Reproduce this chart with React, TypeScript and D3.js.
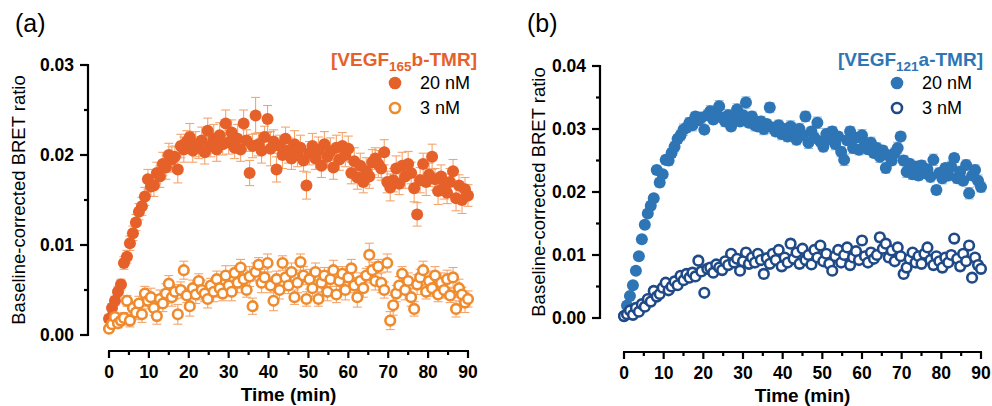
import React from 'react';
import * as d3 from 'd3';

// sampling grid (min)
const times = [
  0, 0.75, 1.5, 2.25, 3, 3.75, 4.5, 5.25, 6, 6.75,
  7.5, 8.25, 9, 9.75, 10.5, 11.25, 12, 12.75, 13.5, 14.25,
  15, 15.75, 16.5, 17.25, 18, 18.75, 19.5, 20.25, 21, 21.75,
  22.5, 23.25, 24, 24.75, 25.5, 26.25, 27, 27.75, 28.5, 29.25,
  30, 30.75, 31.5, 32.25, 33, 33.75, 34.5, 35.25, 36, 36.75,
  37.5, 38.25, 39, 39.75, 40.5, 41.25, 42, 42.75, 43.5, 44.25,
  45, 45.75, 46.5, 47.25, 48, 48.75, 49.5, 50.25, 51, 51.75,
  52.5, 53.25, 54, 54.75, 55.5, 56.25, 57, 57.75, 58.5, 59.25,
  60, 60.75, 61.5, 62.25, 63, 63.75, 64.5, 65.25, 66, 66.75,
  67.5, 68.25, 69, 69.75, 70.5, 71.25, 72, 72.75, 73.5, 74.25,
  75, 75.75, 76.5, 77.25, 78, 78.75, 79.5, 80.25, 81, 81.75,
  82.5, 83.25, 84, 84.75, 85.5, 86.25, 87, 87.75, 88.5, 89.25,
  90,
];

// (a) VEGF165b-TMR, 20 nM
const a20 = [
  0.0018, 0.0030, 0.0038, 0.0048, 0.0056, 0.0080, 0.0087, 0.0102, 0.0113, 0.0125,
  0.0137, 0.0143, 0.0154, 0.0173, 0.0165, 0.0166, 0.0180, 0.0176, 0.0190, 0.0186,
  0.0200, 0.0195, 0.0198, 0.0184, 0.0210, 0.0206, 0.0215, 0.0220, 0.0205, 0.0212,
  0.0208, 0.0216, 0.0203, 0.0227, 0.0210, 0.0218, 0.0206, 0.0222, 0.0212, 0.0235,
  0.0214, 0.0225, 0.0208, 0.0218, 0.0206, 0.0235, 0.0216, 0.0180, 0.0210, 0.0244,
  0.0212, 0.0205, 0.0220, 0.0240, 0.0207, 0.0215, 0.0184, 0.0210, 0.0200, 0.0218,
  0.0205, 0.0196, 0.0212, 0.0200, 0.0208, 0.0194, 0.0166, 0.0202, 0.0210, 0.0196,
  0.0205, 0.0188, 0.0212, 0.0198, 0.0204, 0.0186, 0.0208, 0.0195, 0.0210, 0.0200,
  0.0207, 0.0180, 0.0193, 0.0175, 0.0188, 0.0170, 0.0182, 0.0176, 0.0192, 0.0196,
  0.0190, 0.0185, 0.0203, 0.0170, 0.0164, 0.0172, 0.0185, 0.0168, 0.0188, 0.0176,
  0.0190, 0.0180, 0.0163, 0.0134, 0.0172, 0.0190, 0.0170, 0.0178, 0.0198, 0.0173,
  0.0160, 0.0176, 0.0165, 0.0158, 0.0170, 0.0182, 0.0152, 0.0166, 0.0150, 0.0162,
  0.0155,
];
const a20err = [
  0.0004, 0.0005, 0.0005, 0.0006, 0.0006, 0.0007, 0.0007, 0.0008, 0.0008, 0.0009,
  0.0009, 0.0010, 0.0010, 0.0011, 0.0011, 0.0012, 0.0012, 0.0012, 0.0013, 0.0013,
  0.0013, 0.0014, 0.0012, 0.0015, 0.0013, 0.0014, 0.0012, 0.0015, 0.0013, 0.0014,
  0.0012, 0.0015, 0.0013, 0.0014, 0.0012, 0.0016, 0.0013, 0.0014, 0.0012, 0.0015,
  0.0013, 0.0014, 0.0012, 0.0016, 0.0013, 0.0015, 0.0012, 0.0014, 0.0013, 0.0020,
  0.0013, 0.0014, 0.0012, 0.0015, 0.0019, 0.0013, 0.0014, 0.0012, 0.0015, 0.0013,
  0.0014, 0.0012, 0.0015, 0.0013, 0.0014, 0.0012, 0.0015, 0.0013, 0.0014, 0.0012,
  0.0015, 0.0013, 0.0014, 0.0012, 0.0015, 0.0013, 0.0014, 0.0012, 0.0015, 0.0013,
  0.0014, 0.0012, 0.0015, 0.0013, 0.0014, 0.0012, 0.0015, 0.0013, 0.0014, 0.0012,
  0.0015, 0.0013, 0.0014, 0.0012, 0.0015, 0.0013, 0.0014, 0.0012, 0.0015, 0.0013,
  0.0014, 0.0012, 0.0015, 0.0013, 0.0014, 0.0012, 0.0015, 0.0013, 0.0014, 0.0012,
  0.0015, 0.0013, 0.0014, 0.0012, 0.0015, 0.0013, 0.0014, 0.0012, 0.0015, 0.0013,
  0.0012,
];

// (a) VEGF165b-TMR, 3 nM
const a3 = [
  0.0007, 0.0012, 0.0020, 0.0013, 0.0016, 0.0019, 0.0038, 0.0016, 0.0030, 0.0025,
  0.0035, 0.0023, 0.0046, 0.0038, 0.0042, 0.0030, 0.0021, 0.0040, 0.0035, 0.0046,
  0.0057, 0.0042, 0.0048, 0.0023, 0.0050, 0.0072, 0.0044, 0.0032, 0.0052, 0.0045,
  0.0060, 0.0050, 0.0046, 0.0040, 0.0055, 0.0048, 0.0062, 0.0052, 0.0046, 0.0066,
  0.0055, 0.0048, 0.0069, 0.0058, 0.0075, 0.0062, 0.0050, 0.0065, 0.0032, 0.0070,
  0.0078, 0.0058, 0.0064, 0.0080, 0.0055, 0.0038, 0.0062, 0.0050, 0.0080, 0.0064,
  0.0055, 0.0070, 0.0042, 0.0058, 0.0081, 0.0066, 0.0040, 0.0062, 0.0052, 0.0070,
  0.0040, 0.0058, 0.0066, 0.0048, 0.0062, 0.0072, 0.0045, 0.0060, 0.0068, 0.0050,
  0.0064, 0.0074, 0.0055, 0.0042, 0.0060, 0.0052, 0.0066, 0.0089, 0.0072, 0.0060,
  0.0076, 0.0058, 0.0050, 0.0080, 0.0016, 0.0033, 0.0046, 0.0055, 0.0068, 0.0050,
  0.0060, 0.0042, 0.0029, 0.0056, 0.0064, 0.0072, 0.0048, 0.0060, 0.0052, 0.0066,
  0.0045, 0.0058, 0.0050, 0.0062, 0.0044, 0.0064, 0.0029, 0.0052, 0.0045, 0.0036,
  0.0040,
];
const a3err = [
  0.0003, 0.0004, 0.0004, 0.0005, 0.0005, 0.0006, 0.0006, 0.0007, 0.0007, 0.0008,
  0.0008, 0.0009, 0.0008, 0.0009, 0.0010, 0.0008, 0.0009, 0.0010, 0.0009, 0.0011,
  0.0009, 0.0010, 0.0008, 0.0011, 0.0009, 0.0010, 0.0008, 0.0011, 0.0009, 0.0010,
  0.0008, 0.0011, 0.0009, 0.0010, 0.0008, 0.0011, 0.0009, 0.0010, 0.0008, 0.0011,
  0.0009, 0.0010, 0.0008, 0.0011, 0.0009, 0.0010, 0.0008, 0.0011, 0.0009, 0.0010,
  0.0008, 0.0011, 0.0009, 0.0010, 0.0008, 0.0011, 0.0009, 0.0010, 0.0008, 0.0011,
  0.0009, 0.0010, 0.0008, 0.0011, 0.0009, 0.0010, 0.0008, 0.0011, 0.0009, 0.0010,
  0.0008, 0.0011, 0.0009, 0.0010, 0.0008, 0.0011, 0.0009, 0.0010, 0.0008, 0.0011,
  0.0009, 0.0010, 0.0008, 0.0011, 0.0009, 0.0010, 0.0008, 0.0013, 0.0009, 0.0010,
  0.0008, 0.0011, 0.0009, 0.0010, 0.0010, 0.0011, 0.0009, 0.0010, 0.0008, 0.0011,
  0.0009, 0.0010, 0.0008, 0.0011, 0.0009, 0.0010, 0.0008, 0.0011, 0.0009, 0.0010,
  0.0008, 0.0011, 0.0009, 0.0010, 0.0008, 0.0011, 0.0009, 0.0010, 0.0008, 0.0011,
  0.0009,
];

// (b) VEGF121a-TMR, 20 nM
const b20 = [
  0.0003, 0.0020, 0.0035, 0.0052, 0.0075, 0.0098, 0.0125, 0.0148, 0.0166, 0.0178,
  0.0190, 0.0235, 0.0215, 0.0228, 0.0251, 0.0250, 0.0262, 0.0272, 0.0284, 0.0290,
  0.0299, 0.0302, 0.0310, 0.0306, 0.0320, 0.0314, 0.0318, 0.0299, 0.0322, 0.0328,
  0.0315, 0.0325, 0.0336, 0.0318, 0.0312, 0.0322, 0.0304, 0.0318, 0.0331, 0.0312,
  0.0322, 0.0342, 0.0310, 0.0320, 0.0306, 0.0304, 0.0312, 0.0300, 0.0308, 0.0334,
  0.0302, 0.0296, 0.0306, 0.0292, 0.0300, 0.0288, 0.0304, 0.0294, 0.0283, 0.0300,
  0.0290, 0.0320, 0.0278, 0.0296, 0.0286, 0.0310, 0.0280, 0.0272, 0.0292, 0.0284,
  0.0296, 0.0276, 0.0288, 0.0264, 0.0251, 0.0282, 0.0296, 0.0270, 0.0286, 0.0267,
  0.0290, 0.0278, 0.0268, 0.0278, 0.0262, 0.0270, 0.0256, 0.0266, 0.0238, 0.0258,
  0.0250, 0.0262, 0.0270, 0.0288, 0.0250, 0.0232, 0.0245, 0.0228, 0.0240, 0.0226,
  0.0242, 0.0230, 0.0236, 0.0224, 0.0251, 0.0203, 0.0230, 0.0222, 0.0238, 0.0226,
  0.0240, 0.0254, 0.0222, 0.0232, 0.0218, 0.0243, 0.0198, 0.0226, 0.0235, 0.0218,
  0.0208,
];
const b20err = [
  0.0002, 0.0003, 0.0003, 0.0004, 0.0004, 0.0004, 0.0005, 0.0005, 0.0005, 0.0006,
  0.0006, 0.0006, 0.0007, 0.0006, 0.0007, 0.0008, 0.0007, 0.0008, 0.0007, 0.0008,
  0.0009, 0.0007, 0.0008, 0.0009, 0.0007, 0.0008, 0.0009, 0.0007, 0.0008, 0.0009,
  0.0007, 0.0008, 0.0009, 0.0007, 0.0008, 0.0009, 0.0007, 0.0008, 0.0009, 0.0007,
  0.0008, 0.0009, 0.0007, 0.0008, 0.0009, 0.0007, 0.0008, 0.0009, 0.0007, 0.0008,
  0.0009, 0.0007, 0.0008, 0.0009, 0.0007, 0.0008, 0.0009, 0.0007, 0.0008, 0.0009,
  0.0007, 0.0008, 0.0009, 0.0007, 0.0008, 0.0009, 0.0007, 0.0008, 0.0009, 0.0007,
  0.0008, 0.0009, 0.0007, 0.0008, 0.0009, 0.0007, 0.0008, 0.0009, 0.0007, 0.0008,
  0.0009, 0.0007, 0.0008, 0.0009, 0.0007, 0.0008, 0.0009, 0.0007, 0.0008, 0.0009,
  0.0007, 0.0008, 0.0009, 0.0007, 0.0008, 0.0009, 0.0007, 0.0008, 0.0009, 0.0007,
  0.0008, 0.0009, 0.0007, 0.0008, 0.0009, 0.0007, 0.0008, 0.0009, 0.0007, 0.0008,
  0.0009, 0.0007, 0.0008, 0.0009, 0.0007, 0.0008, 0.0009, 0.0007, 0.0008, 0.0009,
  0.0008,
];

// (b) VEGF121a-TMR, 3 nM
const b3 = [
  0.0003, 0.0006, 0.0012, 0.0005, 0.0016, 0.0010, 0.0022, 0.0018, 0.0030, 0.0026,
  0.0043, 0.0034, 0.0038, 0.0048, 0.0056, 0.0044, 0.0050, 0.0058, 0.0052, 0.0067,
  0.0060, 0.0070, 0.0064, 0.0072, 0.0066, 0.0091, 0.0074, 0.0040, 0.0078, 0.0080,
  0.0072, 0.0085, 0.0080, 0.0076, 0.0090, 0.0084, 0.0102, 0.0088, 0.0094, 0.0075,
  0.0090, 0.0104, 0.0086, 0.0096, 0.0088, 0.0102, 0.0092, 0.0070, 0.0095, 0.0086,
  0.0102, 0.0092, 0.0108, 0.0082, 0.0096, 0.0088, 0.0118, 0.0094, 0.0104, 0.0086,
  0.0110, 0.0092, 0.0100, 0.0085, 0.0108, 0.0096, 0.0115, 0.0090, 0.0102, 0.0086,
  0.0075, 0.0098, 0.0108, 0.0088, 0.0100, 0.0112, 0.0084, 0.0096, 0.0106, 0.0092,
  0.0123, 0.0098, 0.0088, 0.0104, 0.0094, 0.0100, 0.0128, 0.0110, 0.0118, 0.0096,
  0.0107, 0.0090, 0.0112, 0.0098, 0.0070, 0.0080, 0.0094, 0.0104, 0.0088, 0.0098,
  0.0086, 0.0102, 0.0112, 0.0092, 0.0084, 0.0098, 0.0090, 0.0080, 0.0096, 0.0088,
  0.0100, 0.0126, 0.0094, 0.0082, 0.0102, 0.0090, 0.0115, 0.0064, 0.0096, 0.0084,
  0.0078,
];
const b3err = [
  0.0002, 0.0002, 0.0003, 0.0003, 0.0003, 0.0004, 0.0004, 0.0004, 0.0005, 0.0004,
  0.0005, 0.0005, 0.0006, 0.0005, 0.0006, 0.0005, 0.0006, 0.0007, 0.0005, 0.0006,
  0.0007, 0.0005, 0.0006, 0.0007, 0.0005, 0.0006, 0.0007, 0.0005, 0.0006, 0.0007,
  0.0005, 0.0006, 0.0007, 0.0005, 0.0006, 0.0007, 0.0005, 0.0006, 0.0007, 0.0005,
  0.0006, 0.0007, 0.0005, 0.0006, 0.0007, 0.0005, 0.0006, 0.0007, 0.0005, 0.0006,
  0.0007, 0.0005, 0.0006, 0.0007, 0.0005, 0.0006, 0.0007, 0.0005, 0.0006, 0.0007,
  0.0005, 0.0006, 0.0007, 0.0005, 0.0006, 0.0007, 0.0005, 0.0006, 0.0007, 0.0005,
  0.0006, 0.0007, 0.0005, 0.0006, 0.0007, 0.0005, 0.0006, 0.0007, 0.0005, 0.0006,
  0.0007, 0.0005, 0.0006, 0.0007, 0.0005, 0.0006, 0.0007, 0.0005, 0.0006, 0.0007,
  0.0005, 0.0006, 0.0007, 0.0005, 0.0006, 0.0007, 0.0005, 0.0006, 0.0007, 0.0005,
  0.0006, 0.0007, 0.0005, 0.0006, 0.0007, 0.0005, 0.0006, 0.0007, 0.0005, 0.0006,
  0.0007, 0.0005, 0.0006, 0.0007, 0.0005, 0.0006, 0.0007, 0.0005, 0.0006, 0.0007,
  0.0006,
];

const xTicks = [0, 10, 20, 30, 40, 50, 60, 70, 80, 90];
const xMinor = [5, 15, 25, 35, 45, 55, 65, 75, 85];
const aYTicks = [0, 0.01, 0.02, 0.03];
const aYMinor = [0.005, 0.015, 0.025];
const bYTicks = [0, 0.01, 0.02, 0.03, 0.04];
const bYMinor = [0.005, 0.015, 0.025, 0.035];

const FONT = '"Liberation Sans", Arial, Helvetica, sans-serif';

type PanelProps = {
  letter: string;
  letterX: number;
  xRange: [number, number];
  yRange: [number, number];
  yMax: number;
  yTicks: number[];
  yMinor: number[];
  axisX: number;
  axisY: number;
  ylabelX: number;
  hi: number[];
  hiErr: number[];
  lo: number[];
  loErr: number[];
  hiColor: string;
  loColor: string;
  errColor: string;
  titleMain: string;
  titleSub: string;
  titleRest: string;
  legendRight: number;
  legendX: number;
};

const Panel = (p: PanelProps) => {
  const x = d3.scaleLinear().domain([0, 90]).range(p.xRange);
  const y = d3.scaleLinear().domain([0, p.yMax]).range(p.yRange);
  const fmt = d3.format('.2f');
  const cap = 4.5;

  const errBars = (vals: number[], errs: number[]) =>
    vals.map((v, i) => {
      const cx = x(times[i]);
      const top = y(v + errs[i]);
      const bot = y(v - errs[i]);
      return (
        <g key={i}>
          <line x1={cx} x2={cx} y1={top} y2={bot} />
          <line x1={cx - cap} x2={cx + cap} y1={top} y2={top} />
          <line x1={cx - cap} x2={cx + cap} y1={bot} y2={bot} />
        </g>
      );
    });

  return (
    <g fontFamily={FONT}>
      <text x={p.letterX} y={32} fontSize={25}>{p.letter}</text>

      {/* y axis */}
      <g stroke="#000" strokeWidth={2.2}>
        <line x1={p.axisX} x2={p.axisX} y1={y(0) + 1} y2={y(p.yMax) - 1} />
        {p.yTicks.map(t => (
          <line key={t} x1={p.axisX - 8} x2={p.axisX} y1={y(t)} y2={y(t)} />
        ))}
        {p.yMinor.map(t => (
          <line key={t} x1={p.axisX - 4} x2={p.axisX} y1={y(t)} y2={y(t)} />
        ))}
      </g>
      {p.yTicks.map(t => (
        <text key={t} x={p.axisX - 14} y={y(t)} dy="0.36em" textAnchor="end"
          fontSize={17.5} fontWeight="bold">{fmt(t)}</text>
      ))}
      <text transform={`translate(${p.ylabelX},${(y(0) + y(p.yMax)) / 2}) rotate(-90)`}
        textAnchor="middle" dy="0.36em" fontSize={18.5}>Baseline-corrected BRET ratio</text>

      {/* x axis */}
      <g stroke="#000" strokeWidth={2.2}>
        <line x1={x(0) - 1} x2={x(90) + 1} y1={p.axisY} y2={p.axisY} />
        {xTicks.map(t => (
          <line key={t} x1={x(t)} x2={x(t)} y1={p.axisY} y2={p.axisY + 7} />
        ))}
        {xMinor.map(t => (
          <line key={t} x1={x(t)} x2={x(t)} y1={p.axisY} y2={p.axisY + 4} />
        ))}
      </g>
      {xTicks.map(t => (
        <text key={t} x={x(t)} y={p.axisY + 27} textAnchor="middle"
          fontSize={17.5} fontWeight="bold">{t}</text>
      ))}
      <text x={(x(0) + x(90)) / 2} y={p.axisY + 50} textAnchor="middle"
        fontSize={19} fontWeight="bold">Time (min)</text>

      {/* data */}
      <g stroke={p.errColor} strokeWidth={1.1}>{errBars(p.hi, p.hiErr)}</g>
      <g fill={p.hiColor}>
        {p.hi.map((v, i) => <circle key={i} cx={x(times[i])} cy={y(v)} r={6} />)}
      </g>
      <g stroke={p.errColor} strokeWidth={1.1}>{errBars(p.lo, p.loErr)}</g>
      <g fill="#fff" stroke={p.loColor} strokeWidth={2.6}>
        {p.lo.map((v, i) => <circle key={i} cx={x(times[i])} cy={y(v)} r={4.8} />)}
      </g>

      {/* legend */}
      <text x={p.legendRight} y={66} textAnchor="end" fontSize={19}
        fontWeight="bold" fill={p.hiColor}>
        {p.titleMain}
        <tspan fontSize={13.5} dy={5}>{p.titleSub}</tspan>
        <tspan dy={-5}>{p.titleRest}</tspan>
      </text>
      <circle cx={p.legendX} cy={83} r={6.3} fill={p.hiColor} />
      <text x={p.legendX + 25} y={89} fontSize={18}>20 nM</text>
      <circle cx={p.legendX} cy={108} r={5} fill="#fff" stroke={p.loColor} strokeWidth={2.6} />
      <text x={p.legendX + 25} y={114} fontSize={18}>3 nM</text>
    </g>
  );
};

export default function App() {
  return (
    <svg width={992} height={406} style={{ position: 'absolute', left: 0, top: 0, background: '#fff' }}>
      <Panel letter="(a)" letterX={15} xRange={[109, 468]} yRange={[335, 65]} yMax={0.03}
        yTicks={aYTicks} yMinor={aYMinor} axisX={88} axisY={351} ylabelX={18}
        hi={a20} hiErr={a20err} lo={a3} loErr={a3err}
        hiColor="#E6612A" loColor="#EF8B2D" errColor="#F4A56E"
        titleMain="[VEGF" titleSub="165" titleRest="b-TMR]" legendRight={477} legendX={395} />
      <Panel letter="(b)" letterX={527} xRange={[624, 981]} yRange={[318, 66]} yMax={0.04}
        yTicks={bYTicks} yMinor={bYMinor} axisX={600} axisY={352} ylabelX={538}
        hi={b20} hiErr={b20err} lo={b3} loErr={b3err}
        hiColor="#2E75B6" loColor="#1F4A87" errColor="#92BCE4"
        titleMain="[VEGF" titleSub="121" titleRest="a-TMR]" legendRight={983} legendX={897} />
    </svg>
  );
}
